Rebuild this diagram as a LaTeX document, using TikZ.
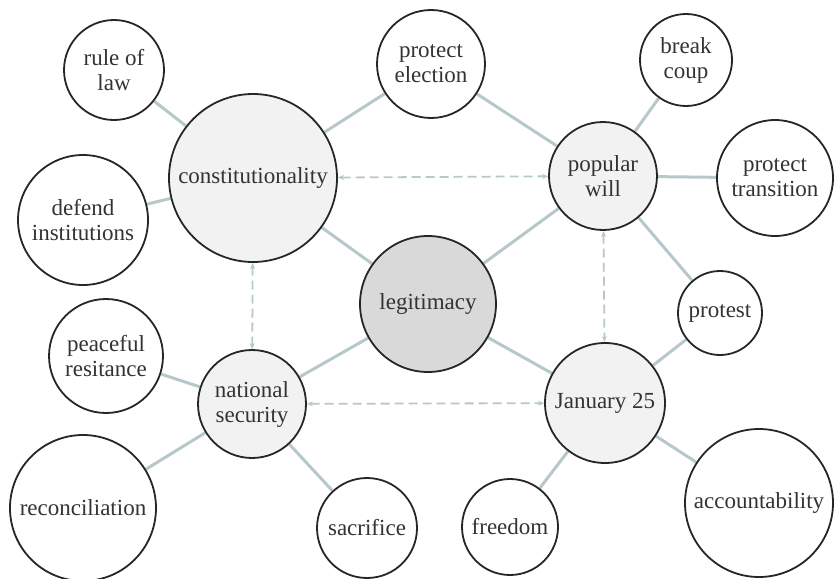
\documentclass[tikz,border=0pt]{standalone}
\usepackage{fontspec}
\setmainfont{Liberation Serif}
\usetikzlibrary{arrows.meta,backgrounds}
\definecolor{linkgray}{HTML}{B7C8CB}
\definecolor{hubgray}{HTML}{F2F2F2}
\definecolor{coregray}{HTML}{D9D9D9}
\begin{document}
\begin{tikzpicture}[x=1pt,y=-1pt,
    concept/.style={circle,draw=black!85,line width=1.8pt,fill=white,inner sep=0pt,align=center,text=black!80,font=\fontsize{23}{25}\selectfont},
    hub/.style={concept,fill=hubgray},
    core/.style={concept,fill=coregray},
    link/.style={draw=linkgray,line width=3pt},
    relation/.style={draw=linkgray,line width=1.8pt,dash pattern=on 9pt off 5pt,{Stealth[length=6pt,width=5pt]}-{Stealth[length=6pt,width=5pt]}}]
      \useasboundingbox (0,0) rectangle (834,578);
      \node[core,minimum size=136pt] (legit) at (428,304) {legitimacy};
      \node[hub,minimum size=168pt] (const) at (253,178) {constitutionality};
      \node[hub,minimum size=108pt] (popwill) at (603,176) {popular\\will};
      \node[hub,minimum size=108pt] (natsec) at (252,404) {national\\security};
      \node[hub,minimum size=120pt] (jan) at (605,403) {January 25};
      \node[concept,minimum size=100pt] (rulelaw) at (114,70) {rule of\\law};
      \node[concept,minimum size=130pt] (defend) at (83,220) {defend\\institutions};
      \node[concept,minimum size=108pt] (protelect) at (431,64) {protect\\election};
      \node[concept,minimum size=92pt] (breakcoup) at (686,60) {break\\coup};
      \node[concept,minimum size=116pt] (prottrans) at (775,178) {protect\\transition};
      \node[concept,minimum size=84pt] (protest) at (720,313) {protest};
      \node[concept,minimum size=148pt] (account) at (759,503) {accountability};
      \node[concept,minimum size=96pt] (freedom) at (510,527) {freedom};
      \node[concept,minimum size=100pt] (sacrifice) at (367,528) {sacrifice};
      \node[concept,minimum size=146pt] (reconcil) at (83,508) {reconciliation};
      \node[concept,minimum size=114pt] (peaceful) at (106,356) {peaceful\\resitance};
      \begin{pgfonlayer}{background}
        \foreach \a/\b in {legit/const,legit/popwill,legit/natsec,legit/jan,const/rulelaw,const/defend,const/protelect,popwill/protelect,popwill/breakcoup,popwill/prottrans,popwill/protest,jan/protest,jan/freedom,jan/account,natsec/peaceful,natsec/reconcil,natsec/sacrifice}
          \draw[link] (\a) -- (\b);
      \end{pgfonlayer}
      \draw[relation] (const) -- (popwill);
      \draw[relation] (natsec) -- (jan);
      \draw[relation] (const) -- (natsec);
      \draw[relation] (popwill) -- (jan);
    \end{tikzpicture}
\end{document}
